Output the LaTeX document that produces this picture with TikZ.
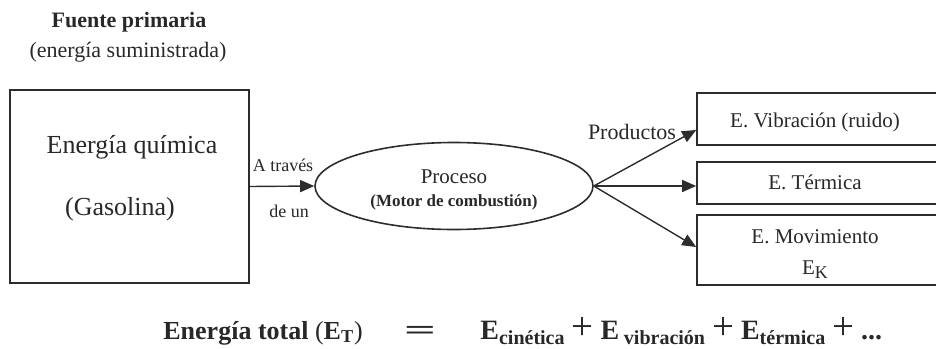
\documentclass[tikz,border=0pt]{standalone}
\usepackage{fontspec}
\setmainfont{Liberation Serif}
\usepackage{xcolor}
\definecolor{LineGray}{RGB}{45,45,45}
\definecolor{InkText}{RGB}{40,40,40}
\usepackage{tikz}
\usetikzlibrary{
    arrows.meta,
    positioning,
    calc,
    shapes.geometric
}
\tikzset{
    energybox/.style={
        draw=LineGray,
        line width=0.8pt,
        inner sep=0pt
    },
    flow/.style={
        LineGray,
        line width=0.7pt,
        -{Triangle[length=7pt,width=6pt]}
    },
    lbl/.style={
        text=InkText,
        inner sep=0pt,
        font=\fontsize{9}{10}\selectfont
    }
}

\begin{document}
\begin{tikzpicture}[x=0.5pt,y=-0.5pt]
%
    \useasboundingbox (0,0) rectangle (936,348);
%
    % fuente primaria
%
    \node[
        lbl,
        font=\fontsize{11}{12}\bfseries\selectfont
    ]
    (fuente) at (129,22) {
        Fuente primaria
    };
%
    \node[
        lbl,
        font=\fontsize{11}{12}\selectfont
    ]
    (sumin) at (128,52) {
        (energía suministrada)
    };
%
    \node[
        energybox,
        minimum width=119.5pt,
        minimum height=96.5pt
    ]
    (quimica) at (129.5,186.5) {};
%
    \node[
        lbl,
        font=\fontsize{13}{14}\selectfont
    ]
    (quimtxt) at (132,147) {
        Energía química
    };
%
    \node[
        lbl,
        font=\fontsize{13}{14}\selectfont
    ]
    (gasol) at (120,209) {
        (Gasolina)
    };
%
    % proceso
%
    \node[
        ellipse,
        draw=LineGray,
        line width=0.8pt,
        inner sep=0pt,
        minimum width=139pt,
        minimum height=43.5pt
    ]
    (proceso) at (454,186) {};
%
    \node[
        lbl,
        font=\fontsize{10.5}{11}\selectfont
    ]
    (procesotxt) at (454,177) {
        Proceso
    };
%
    \node[
        lbl,
        font=\fontsize{8.5}{9}\bfseries\selectfont
    ]
    (motor) at (454,202) {
        (Motor de combustión)
    };
%
    % productos
%
    \node[
        energybox,
        minimum width=122pt,
        minimum height=26pt
    ]
    (vib) at (819,119) {};
%
    \node[
        energybox,
        minimum width=122pt,
        minimum height=21pt
    ]
    (term) at (819,183) {};
%
    \node[
        energybox,
        minimum width=122pt,
        minimum height=35pt
    ]
    (mov) at (819,250) {};
%
    \node[lbl, font=\fontsize{10.5}{11}\selectfont] (vibtxt) at (815,122) {E. Vibración (ruido)};
    \node[lbl, font=\fontsize{10.5}{11}\selectfont] (termtxt) at (815,182) {E. Térmica};
    \node[lbl, font=\fontsize{10.5}{11}\selectfont] (movtxt) at (815,237) {E. Movimiento};
    \node[lbl, font=\fontsize{10.5}{11}\selectfont] (ektxt) at (815,270) {E{\fontsize{9}{9}\selectfont\raisebox{-2pt}{K}}};
%
    % flechas
%
    \draw[flow] (quimica.east) -- (proceso.west);
    \draw[flow] (proceso.east) -- ([yshift=-5.5pt]vib.west);
    \draw[flow] (proceso.east) -- ([yshift=-1.5pt]term.west);
    \draw[flow] (proceso.east) -- ([yshift=1.5pt]mov.west);
%
    \node[lbl] (atraves) at (283,165) {A través};
    \node[lbl] (deun) at (289,211) {de un};
    \node[lbl, font=\fontsize{11}{12}\selectfont] (prod) at (632,132) {Productos};
%
    % balance total
%
    \node[
        lbl,
        anchor=base west,
        font=\fontsize{13}{14}\bfseries\selectfont
    ]
    (etotal) at (163,339) {
        Energía total {\normalfont(}E\textsubscript{T}{\normalfont)}
    };
%
    \node[
        lbl,
        font=\fontsize{14}{14}\bfseries\selectfont
    ]
    (igual) at (420,333) {
        \scalebox{2}[1]{=}
    };
%
    \node[
        lbl,
        anchor=base west,
        font=\fontsize{14}{15}\bfseries\selectfont
    ]
    (suma) at (480,339) {
        E{\fontsize{10}{10}\selectfont\raisebox{-2.5pt}{cinética}}
        {\mdseries\fontsize{19.5}{20}\selectfont +}
        E\,{\fontsize{10}{10}\selectfont\raisebox{-2.5pt}{vibración}}
        {\mdseries\fontsize{19.5}{20}\selectfont +}
        E{\fontsize{10}{10}\selectfont\raisebox{-2.5pt}{térmica}}
        {\mdseries\fontsize{19.5}{20}\selectfont +}
        ...
    };
%
\end{tikzpicture}
\end{document}
